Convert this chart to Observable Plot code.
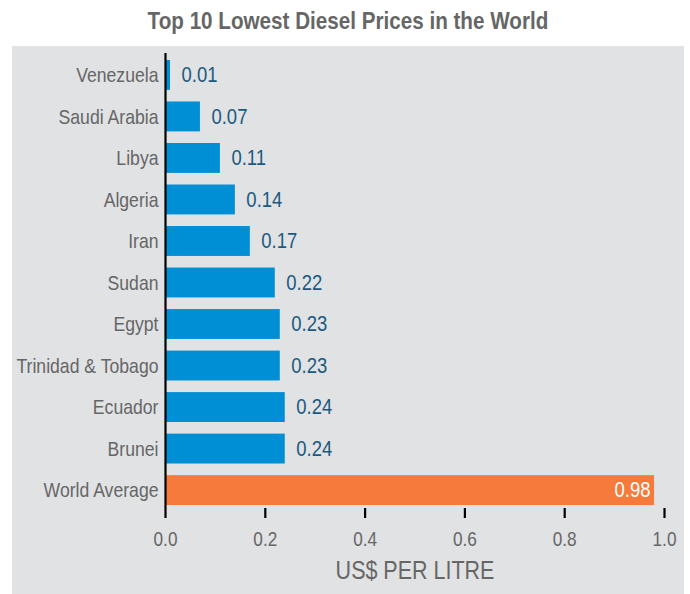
<!DOCTYPE html>
<html>
<head>
<meta charset="utf-8">
<script src="https://cdn.jsdelivr.net/npm/d3@7"></script>
<script src="https://cdn.jsdelivr.net/npm/@observablehq/plot@0.6"></script>
<style>
  html, body { margin: 0; padding: 0; background: #ffffff; }
  body { width: 690px; height: 594px; position: relative; overflow: hidden;
         font-family: "Liberation Sans", Arial, sans-serif; }
  #title { position: absolute; left: 0; top: 0; width: 696px; height: 46px; line-height: 42px;
           text-align: center; font-weight: bold; font-size: 24px; color: #666666; }
  #title span { display: inline-block; transform: scaleX(0.86); transform-origin: 50% 50%; white-space: nowrap; }
  #panel { position: absolute; left: 12px; top: 46px; width: 672px; height: 548px; background: #e1e2e4; }
  #panel svg { display: block; }
</style>
</head>
<body>
<div id="title"><span>Top 10 Lowest Diesel Prices in the World</span></div>
<div id="panel"></div>
<script>
const countries = ["Venezuela", "Saudi Arabia", "Libya", "Algeria", "Iran", "Sudan", "Egypt", "Trinidad & Tobago", "Ecuador", "Brunei", "World Average"];
const prices = [0.01, 0.07, 0.11, 0.14, 0.17, 0.22, 0.23, 0.23, 0.24, 0.24, 0.98];
const xTicks = [0, 0.2, 0.4, 0.6, 0.8, 1.0];
const axisTitle = "US$ PER LITRE";
const averageName = "World Average";

const data = countries.map((c, i) => ({country: c, price: prices[i], avg: c === averageName}));
const regular = data.filter(d => !d.avg);
const average = data.filter(d => d.avg);

const blue = "#008ed5";
const orange = "#f57a3c";
const valueColor = "#1b5a80";
const gray = "#666666";

const chart = Plot.plot({
  width: 672,
  height: 548,
  marginLeft: 153,
  marginRight: 20,
  marginTop: 1,
  marginBottom: 76,
  style: {background: "transparent", fontFamily: "'Liberation Sans', Arial, sans-serif", overflow: "visible"},
  x: {domain: [0, 1], ticks: xTicks},
  y: {domain: countries, paddingInner: 0.28, paddingOuter: 0.3125, round: false},
  marks: [
    Plot.barX(regular, {y: "country", x1: 0, x2: "price", fill: blue}),
    Plot.barX(average, {y: "country", x1: 0, x2: "price", fill: orange}),
    Plot.text(regular, {y: "country", x: "price", text: d => d.price.toFixed(2), dx: 11, textAnchor: "start", fill: valueColor, fontSize: 21.5}),
    Plot.text(average, {y: "country", x: "price", text: d => d.price.toFixed(2), dx: -4, textAnchor: "end", fill: "white", fontSize: 21.5}),
    Plot.axisY({tickSize: 0, tickPadding: 7, fontSize: 20.5, color: gray, label: null}),
    Plot.axisX({ticks: xTicks, tickSize: 0, tickPadding: 13, tickFormat: d => d.toFixed(1), fontSize: 20, color: gray, label: null}),
    Plot.ruleX(xTicks.slice(1), {insetTop: 461, stroke: "black", strokeWidth: 2.2}),
    Plot.ruleX([0], {insetTop: 6, stroke: "black", strokeWidth: 2.2}),
    Plot.ruleY([0], {x1: 0, x2: 1, frameAnchor: "bottom", stroke: "black", strokeWidth: 2.2}),
    Plot.text([axisTitle], {frameAnchor: "bottom", dy: 60, text: d => d, fontSize: 25, fill: gray})
  ]
});
// condensed look: narrow each label horizontally about its own anchor point
chart.querySelectorAll("text").forEach(t => {
  const tr = t.getAttribute("transform") || "";
  const x = t.getAttribute("x");
  if (x !== null && +x !== 0) {
    t.setAttribute("transform", `${tr} translate(${x},0) scale(0.86,1)`);
    t.setAttribute("x", 0);
  } else {
    t.setAttribute("transform", `${tr} scale(0.86,1)`);
  }
});
document.getElementById("panel").appendChild(chart);
</script>
</body>
</html>
